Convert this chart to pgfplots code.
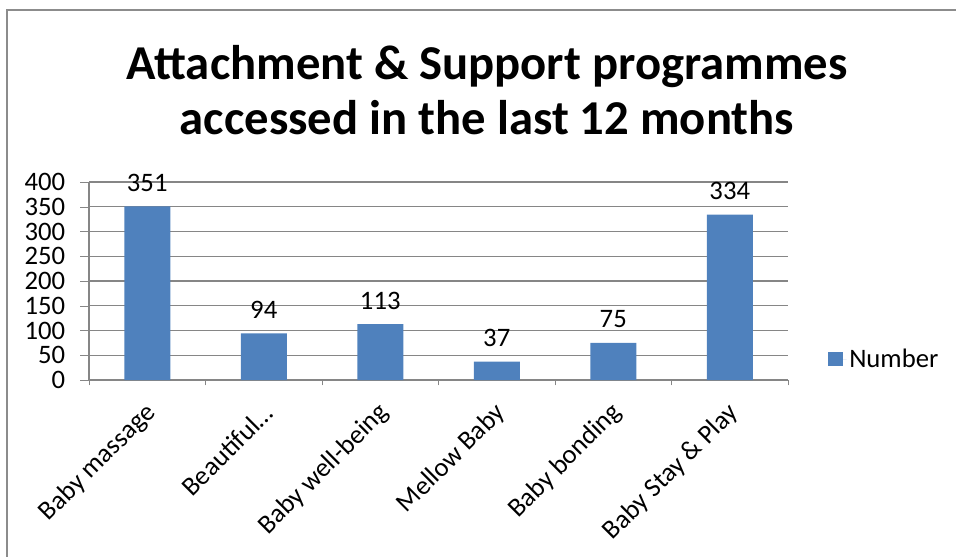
\documentclass[border=0pt]{standalone}
\usepackage{fontspec}
\setmainfont{Carlito}
\usepackage{pgfplots}
\pgfplotsset{compat=1.18}
\definecolor{barblue}{HTML}{4F81BD}
\definecolor{gridgray}{HTML}{868686}
\definecolor{framegray}{HTML}{8C8C8C}
\begin{document}
\begin{tikzpicture}[x=0.75pt,y=0.75pt]
\useasboundingbox (0,0) rectangle (956,557);
\draw[framegray, line width=1.5pt] (956,546.5) -- (6.5,546.5) -- (6.5,0);
\node[font=\fontsize{36.5}{41.5}\selectfont\bfseries, align=center] at (487,467) {Attachment \& Support programmes\\accessed in the last 12 months};
\begin{axis}[
  at={(66.75pt,132.75pt)}, anchor=south west, scale only axis,
  width=524.25pt, height=148.5pt,
  ymin=0, ymax=400, ytick={0,50,...,400},
  xmin=-0.5, xmax=5.5, xtick={0,1,2,3,4,5},
  xticklabels={Baby massage, {Beautiful\ldots}, Baby well-being, Mellow Baby, Baby bonding, Baby Stay \& Play},
  minor xtick={-0.5,0.5,1.5,2.5,3.5,4.5,5.5},
  major x tick style={draw=none},
  minor x tick style={gridgray},
  minor tick length=4pt,
  major tick length=6.75pt,
  ytick style={gridgray},
  tick align=outside,
  ymajorgrids, grid style={gridgray, line width=0.8pt},
  axis x line*=bottom, axis y line*=left,
  axis line style={gridgray, line width=0.8pt},
  ybar, bar width=34.5pt,
  font=\fontsize{20}{23}\selectfont,
  tick label style={font=\fontsize{20}{23}\selectfont},
  /pgf/number format/assume math mode=true,
  yticklabel style={inner sep=1pt, xshift=-10pt},
  xticklabel style={xshift=4.3pt, yshift=-14pt, rotate=45, anchor=east, inner sep=1pt},
  nodes near coords,
  every node near coord/.append style={font=\fontsize{20}{23}\selectfont, yshift=7.5pt},
  legend style={at={(1.051,0.106)}, anchor=west, draw=none, fill=none, font=\fontsize{20}{23}\selectfont},
  legend image code/.code={\fill[barblue] (0pt,-5.25pt) rectangle (11.25pt,5.25pt); \path (11.25pt,0) -- (14pt,0);},
]
\addplot[fill=barblue, draw=none] coordinates {(0,351) (1,94) (2,113) (3,37) (4,75) (5,334)};
\addlegendentry{Number}
\end{axis}
\end{tikzpicture}
\end{document}
